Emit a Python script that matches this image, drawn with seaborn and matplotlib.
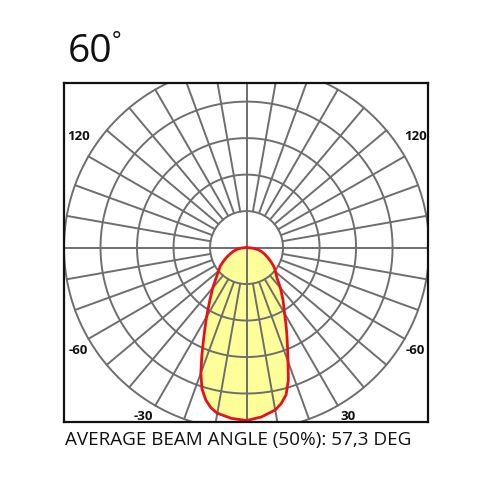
import numpy as np
import matplotlib
matplotlib.use("Agg")
import matplotlib.pyplot as plt
import seaborn as sns

# Intensity curve (angle from nadir, negative = left side)
angles = [-90, -85, -80, -75, -70, -65, -60, -55, -50, -45, -40, -35, -30, -27.5, -25, -22.5, -20, -17.5,
          -15, -12.5, -10, -5, 0, 5, 10, 12.5, 15, 17.5, 20, 22.5, 25, 27.5, 30, 35, 40, 45, 50, 55, 60, 65,
          70, 75, 80, 85, 90]
intensity = [0.0, 0.13, 0.26, 0.36, 0.46, 0.58, 0.72, 0.88, 1.00, 1.18, 1.44, 1.75, 2.19, 2.46, 2.79, 3.20, 3.66, 4.06,
             4.32, 4.50, 4.61, 4.70, 4.74, 4.66, 4.52, 4.38, 4.18, 3.81, 3.32, 2.93, 2.61, 2.33, 2.08, 1.74, 1.44,
             1.18, 1.04, 0.92, 0.77, 0.64, 0.53, 0.43, 0.32, 0.17, 0.0]

# Polar grid
ring_radii = [1, 2, 3, 4, 5]
spoke_step = 10

# Scale labels around the diagram: (text, x px, y px)
scale_labels = ["120", "120", "-60", "-60", "-30", "30"]
label_pos = [(79, 137), (416, 137), (78, 351), (415, 351), (143, 416), (348, 416)]

title = "60"
caption = "AVERAGE BEAM ANGLE (50%): 57,3 DEG"

GRID = "#6e6e6e"
FILL = "#ffff99"
EDGE = "#e8101a"


def to_xy(theta_deg, r):
    t = np.radians(np.asarray(theta_deg, dtype=float))
    r = np.asarray(r, dtype=float)
    return r * np.sin(t), -r * np.cos(t)


def draw_grid(ax):
    t = np.linspace(0, 2 * np.pi, 400)
    for r in ring_radii:
        ax.plot(r * np.cos(t), r * np.sin(t), color=GRID, lw=1.4, zorder=2)
    for a in range(0, 360, spoke_step):
        r0 = 0 if a % 90 == 0 else ring_radii[0]
        x, y = to_xy([a, a], [r0, ring_radii[-1]])
        ax.plot(x, y, color=GRID, lw=1.4, zorder=2)


def main():
    sns.set_style("white")
    plt.rcParams["font.family"] = ["Open Sans", "DejaVu Sans"]

    fig = plt.figure(figsize=(5, 5), dpi=100)
    ax = fig.add_axes([64 / 500, 1 - 422 / 500, 364 / 500, 339 / 500])

    x, y = to_xy(angles, intensity)
    ax.fill(x, y, color=FILL, zorder=1, lw=0)
    draw_grid(ax)
    sns.lineplot(x=x, y=y, sort=False, estimator=None, color=EDGE, lw=2, ax=ax, zorder=3)

    ax.set_xlim(-5.0, 4.97)
    ax.set_ylim(-4.78, 4.51)
    ax.set_xticks([])
    ax.set_yticks([])
    for s in ax.spines.values():
        s.set_color("#111111")
        s.set_linewidth(1.6)
        s.set_zorder(5)

    for txt, (px, py) in zip(scale_labels, label_pos):
        fig.text(px / 500, 1 - py / 500, txt, ha="center", va="center",
                 fontsize=9.5, fontweight="bold", color="#111111")

    fig.text(68 / 500, 1 - 62 / 500, title, fontsize=28, va="baseline", ha="left", color="#111111")
    fig.text(112 / 500, 1 - 42 / 500, "°", fontsize=16, va="center", ha="left", color="#111111")
    fig.text(65 / 500, 1 - 440 / 500, caption, fontsize=13.6, va="center", ha="left", color="#111111")

    fig.savefig("out.png", dpi=100)


if __name__ == "__main__":
    main()
